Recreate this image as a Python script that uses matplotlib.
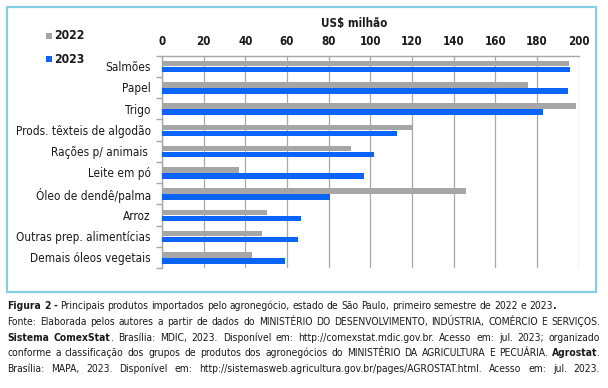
import numpy as np
import matplotlib
matplotlib.use("Agg")
import matplotlib.pyplot as plt
from matplotlib import font_manager as fm
from matplotlib.font_manager import FontProperties
from matplotlib.patches import Rectangle

# ---------------- data ----------------
categories = ["Salmões", "Papel", "Trigo", "Prods. têxteis de algodão",
              "Rações p/ animais ", "Leite em pó", "Óleo de dendê/palma",
              "Arroz", "Outras prep. alimentícias", "Demais óleos vegetais"]
v2022 = [195.5, 175.7, 198.7, 120.7, 90.7, 36.8, 146.0, 50.4, 48.0, 43.2]
v2023 = [195.7, 195.0, 182.7, 112.7, 101.6, 97.0, 80.8, 66.7, 65.4, 59.0]
series_labels = ["2022", "2023"]
xticks = [0, 20, 40, 60, 80, 100, 120, 140, 160, 180, 200]
axis_title = "US$ milhão"
caption_lines = [
    "*Figura 2 -* Principais produtos importados pelo agronegócio, estado de São Paulo, primeiro semestre de 2022 e 2023*.*",
    "Fonte: Elaborada pelos autores a partir de dados do MINISTÉRIO DO DESENVOLVIMENTO, INDÚSTRIA, COMÉRCIO E SERVIÇOS.",
    "*Sistema ComexStat*. Brasília: MDIC, 2023. Disponível em: http://comexstat.mdic.gov.br. Acesso em: jul. 2023; organizado",
    "conforme a classificação dos grupos de produtos dos agronegócios do MINISTÉRIO DA AGRICULTURA E PECUÁRIA. *Agrostat*.",
    "Brasília: MAPA, 2023. Disponível em: http://sistemasweb.agricultura.gov.br/pages/AGROSTAT.html. Acesso em: jul. 2023.",
]

C2022 = "#a6a6a6"
C2023 = "#0a64f8"
GRID = "#a8a8a8"
FRAME = "#86cde6"
TXT = "#1a1a1a"

# ---------------- font ----------------
cond = [f for f in fm.fontManager.ttflist
        if f.name == "DejaVu Sans" and "Condensed" in f.fname]
FAM = "DejaVu Sans"
STRETCH = "condensed" if cond else "normal"
if not cond:
    names = {f.name for f in fm.fontManager.ttflist}
    if "Liberation Sans Narrow" in names:
        FAM = "Liberation Sans Narrow"

def fp(size, bold=False):
    return FontProperties(family=FAM, size=size,
                          weight="bold" if bold else "normal", stretch=STRETCH)

W, H = 608, 388
fig = plt.figure(figsize=(W / 100, H / 100), dpi=100)
fig.patch.set_facecolor("white")

def fx(x):
    return x / W

def fy(y):
    return 1 - y / H

# frame
fig.patches.append(Rectangle((fx(7), fy(291.5)), (596 - 7) / W, (291.5 - 7) / H,
                             transform=fig.transFigure, fill=False,
                             edgecolor=FRAME, linewidth=1.6))

# ---------------- axes ----------------
L, R, T, B = 162, 578.7, 55.5, 268
ax = fig.add_axes([fx(L), fy(B), (R - L) / W, (B - T) / H])
n = len(categories)
y = np.arange(n)
h = 0.265
ax.barh(y - 0.115, v2022, height=h, color=C2022, zorder=3, label=series_labels[0])
ax.barh(y + 0.165, v2023, height=h, color=C2023, zorder=3, label=series_labels[1])
ax.set_xlim(0, 200)
ax.set_ylim(n - 0.5, -0.5)
ax.xaxis.tick_top()
ax.set_xticks(xticks)
ax.set_xticklabels([str(t) for t in xticks])
for lab in ax.get_xticklabels():
    lab.set_fontproperties(fp(8.3, True))
    lab.set_color(TXT)
ax.tick_params(axis="x", length=0, pad=5.5)
ax.set_yticks(y)
ax.set_yticklabels(categories)
for lab in ax.get_yticklabels():
    lab.set_fontproperties(fp(8.5))
    lab.set_color(TXT)
ax.set_yticks(np.arange(n + 1) - 0.5, minor=True)
ax.tick_params(axis="y", which="major", length=0, pad=8)
ax.tick_params(axis="y", which="minor", length=4, color=GRID, width=1, direction="out")
ax.grid(axis="x", color=GRID, linewidth=0.9, zorder=0)
ax.set_axisbelow(True)
for s in ["right", "bottom"]:
    ax.spines[s].set_visible(False)
for s in ["top", "left"]:
    ax.spines[s].set_color(GRID)
    ax.spines[s].set_linewidth(1)

fig.text(fx(354), fy(23), axis_title, ha="center", va="center",
         fontproperties=fp(8.3, True), color=TXT)

# legend
for i, (lab, col) in enumerate(zip(series_labels, [C2022, C2023])):
    yc = 35.7 + i * 23.7
    fig.patches.append(Rectangle((fx(46.3), fy(yc + 3)), 6 / W, 6 / H,
                                 transform=fig.transFigure, facecolor=col,
                                 edgecolor="none"))
    fig.text(fx(54.3), fy(yc), lab, ha="left", va="center",
             fontproperties=fp(8.7, True), color=TXT)

# ---------------- caption ----------------
renderer = fig.canvas.get_renderer()

def parse(line):
    words = []
    bold = False
    for raw in line.split(" "):
        pieces = []
        buf = ""
        for ch in raw:
            if ch == "*":
                if buf:
                    pieces.append((buf, bold))
                buf = ""
                bold = not bold
            else:
                buf += ch
        if buf:
            pieces.append((buf, bold))
        words.append(pieces)
    return words

def twidth(t, size, b):
    return renderer.get_text_width_height_descent(t, fp(size, b), ismath=False)[0]

def wwidth(pieces, size):
    return sum(twidth(t, size, b) for t, b in pieces)

def space(size):
    return twidth("a a", size, False) - twidth("aa", size, False)

parsed = [parse(l) for l in caption_lines]
X0, X1 = 7.3, 600.0
target = X1 - X0
BASE = 7.4
baselines = [309, 324.8, 340.6, 356.4, 372.2]
for li, words in enumerate(parsed):
    size = BASE
    natural = sum(wwidth(w, size) for w in words) + space(size) * (len(words) - 1)
    if li > 0 and natural > target:
        size = BASE * target / natural
    widths = [wwidth(w, size) for w in words]
    if li == 0:
        gap = space(size)
    else:
        gap = (target - sum(widths)) / (len(words) - 1)
    x = X0
    for w, wd in zip(words, widths):
        xx = x
        for t, b in w:
            fig.text(fx(xx), fy(baselines[li]), t, ha="left", va="baseline",
                     fontproperties=fp(size, b), color=TXT)
            xx += twidth(t, size, b)
        x += wd + gap

fig.savefig("out.png", dpi=100, facecolor="white")
